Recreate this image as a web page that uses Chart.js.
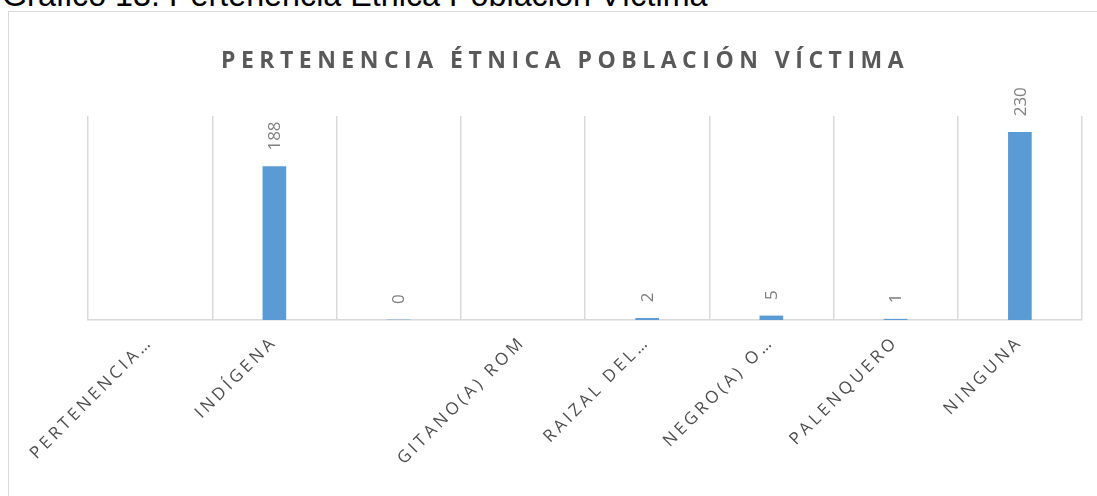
<!DOCTYPE html>
<html>
<head>
<meta charset="utf-8">
<script src="https://cdn.jsdelivr.net/npm/chart.js@4.4.1/dist/chart.umd.min.js"></script>
<style>
  html, body { margin: 0; padding: 0; background: #fff; overflow: hidden; }
  body { width: 1097px; height: 496px; position: relative; }
  #caption { position: absolute; left: 2px; top: -21px; font: 32.3px "Liberation Sans", Arial, sans-serif; line-height: 32px; color: #000; white-space: nowrap; }
  #box { position: absolute; left: 8px; top: 11px; width: 1200px; height: 600px; border: 1px solid #d9d9d9; box-sizing: border-box; }
  #wrap { position: absolute; left: 0; top: 0; width: 1097px; height: 496px; }
</style>
</head>
<body>
<div id="caption">Gráfico 13. Pertenencia Étnica Población Víctima</div>
<div id="box"></div>
<div id="wrap"><canvas id="c"></canvas></div>
<script>
// datos
const categorias = ['PERTENENCIA…', 'INDÍGENA', '', 'GITANO(A) ROM', 'RAIZAL DEL…', 'NEGRO(A) O…', 'PALENQUERO', 'NINGUNA'];
const victimas = [null, 188, 0, null, 2, 5, 1, 230];
const titulo = 'PERTENENCIA ÉTNICA POBLACIÓN VÍCTIMA';
const ejeMax = 250;

// espaciado de letras al estilo Excel (ticks 3.5px, título 5.5px)
const spacing = {
  id: 'spacing',
  beforeLayout(chart) { chart.ctx.letterSpacing = '3.5px'; },
  beforeDraw(chart) {
    chart.ctx.letterSpacing = '3.5px';
    const t = chart.titleBlock;
    if (t && !t._patched) {
      const orig = t.draw;
      t.draw = function () {
        const prev = this.ctx.letterSpacing;
        this.ctx.letterSpacing = '5.5px';
        orig.call(this);
        this.ctx.letterSpacing = prev;
      };
      t._patched = true;
    }
  },
};

// etiquetas de valor encima de las barras, rotadas
const valueLabels = {
  id: 'valueLabels',
  afterDatasetsDraw(chart) {
    const ctx = chart.ctx;
    const meta = chart.getDatasetMeta(0);
    ctx.save();
    ctx.letterSpacing = '0px';
    ctx.font = '17px "Open Sans"';
    ctx.fillStyle = '#7f7f7f';
    ctx.textAlign = 'left';
    ctx.textBaseline = 'middle';
    meta.data.forEach((bar, i) => {
      const v = victimas[i];
      if (v === null) return;
      ctx.save();
      ctx.translate(bar.x, bar.y - 16);
      ctx.rotate(-Math.PI / 2);
      ctx.fillText(String(v), 0, 1);
      ctx.restore();
    });
    ctx.restore();
  },
};

new Chart(document.getElementById('c'), {
  type: 'bar',
  data: {
    labels: categorias,
    datasets: [{ data: victimas, backgroundColor: '#5b9bd5', barThickness: 23 }],
  },
  options: {
    responsive: true,
    maintainAspectRatio: false,
    animation: false,
    layout: { padding: { left: 48, right: 15, top: 12, bottom: 0 } },
    plugins: {
      legend: { display: false },
      tooltip: { enabled: false },
      title: {
        display: true,
        text: titulo,
        color: '#595959',
        font: { family: 'Open Sans', size: 23, weight: 'bold' },
        padding: { top: 35.7, bottom: 40.7 },
      },
    },
    scales: {
      x: {
        grid: { color: '#d9d9d9', lineWidth: 1.5, drawTicks: false, offset: true },
        border: { color: '#d9d9d9', width: 1.5 },
        ticks: { color: '#4d4d4d', font: { family: 'Open Sans', size: 17 }, minRotation: 45, maxRotation: 45, autoSkip: false, padding: 12 },
        afterFit(s) { s.height = 176; s.paddingLeft = 0; s.paddingRight = 0; },
      },
      y: {
        min: 0,
        max: ejeMax,
        grid: { display: false },
        border: { display: false },
        ticks: { display: false },
        afterFit(s) { s.width = 40; s.paddingTop = 0; s.paddingBottom = 0; },
      },
    },
  },
  plugins: [spacing, valueLabels],
});
</script>
</body>
</html>
